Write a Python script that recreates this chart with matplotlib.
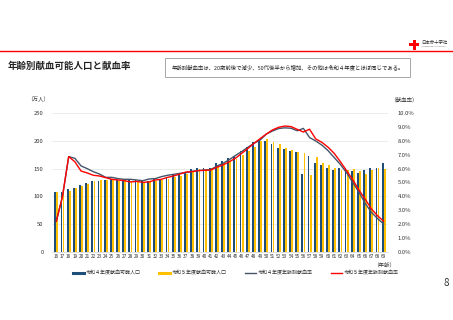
import matplotlib.pyplot as plt
import numpy as np
from matplotlib.lines import Line2D
from matplotlib.patches import Rectangle

plt.rcParams['font.family'] = ['Noto Sans CJK JP', 'DejaVu Sans']

ages = [str(a) for a in range(16, 70)]

# 献血可能人口（万人）
pop_r4 = [107, 107, 113, 115, 120, 125, 127, 128, 130, 131, 130, 130, 131, 130, 128, 128,
          131, 132, 135, 139, 140, 143, 149, 151, 151, 152, 160, 163, 169, 173, 181, 190,
          199, 202, 200, 194, 188, 185, 181, 180, 140, 172, 161, 157, 152, 148, 151, 151,
          146, 142, 148, 152, 152, 160]
pop_r5 = [107, 107, 110, 115, 118, 123, 127, 130, 130, 130, 128, 129, 128, 128, 126, 126,
          127, 130, 132, 135, 137, 141, 146, 149, 150, 151, 155, 160, 164, 167, 175, 182,
          189, 200, 204, 199, 194, 188, 184, 180, 179, 139, 171, 160, 156, 151, 148, 148,
          150, 146, 141, 148, 151, 150]

# 年齢別献血率（%）
rate_r4 = [2.2, 4.0, 6.87, 6.75, 6.2, 6.0, 5.78, 5.61, 5.37, 5.37, 5.28, 5.23, 5.23, 5.18,
           5.13, 5.25, 5.28, 5.42, 5.52, 5.59, 5.66, 5.71, 5.81, 5.86, 5.9, 5.93, 6.19, 6.39,
           6.65, 6.95, 7.23, 7.54, 7.83, 8.07, 8.5, 8.72, 8.9, 8.95, 8.92, 8.74, 8.91, 8.25,
           8.0, 7.7, 7.3, 6.8, 6.3, 5.7, 5.0, 4.3, 3.5, 2.85, 2.4, 2.0]
rate_r5 = [2.2, 4.0, 6.87, 6.5, 5.83, 5.69, 5.52, 5.47, 5.35, 5.23, 5.18, 5.13, 5.04, 5.08,
           5.01, 5.04, 5.18, 5.23, 5.37, 5.47, 5.61, 5.76, 5.78, 5.86, 5.88, 5.9, 6.1, 6.27,
           6.5, 6.75, 7.1, 7.45, 7.83, 8.17, 8.5, 8.8, 8.99, 9.08, 9.04, 8.84, 8.65, 8.85,
           8.15, 7.9, 7.55, 7.1, 6.5, 5.85, 5.2, 4.45, 3.8, 3.1, 2.6, 2.2]

navy = '#1F4E79'
gold = '#FFC000'
slate = '#44546A'
red = '#FF0000'

fig = plt.figure(figsize=(4.53, 3.2), dpi=100)

# header
fig.add_artist(Line2D([0, 1], [1 - 50.5 / 320] * 2, color=red, lw=1.0))
fig.add_artist(Rectangle((409 / 453, 1 - 46 / 320), 10 / 453, 3 / 320, color=red, lw=0))
fig.add_artist(Rectangle((412.5 / 453, 1 - 49.5 / 320), 3 / 453, 10 / 320, color=red, lw=0))
fig.text(421 / 453, 1 - 42 / 320, '日本赤十字社', fontsize=3.2, color='#333333',
         va='center', ha='left')
fig.text(421 / 453, 1 - 46.5 / 320, 'Japanese Red Cross Society', fontsize=1.3,
         color='#666666', va='center', ha='left', family='DejaVu Sans')
fig.text(8 / 453, 1 - 66 / 320, '年齢別献血可能人口と献血率', fontsize=6.8,
         fontweight='bold', va='center', ha='left', color='#222222')
fig.text(287.5 / 453, 1 - 67.5 / 320,
         '年齢別献血率は、20歳前後で減少、50代後半から増加、その他は令和４年度とほぼ同じである。',
         fontsize=3.9, va='center', ha='center', color='#222222',
         bbox=dict(boxstyle='square,pad=1.25', fc='white', ec='#999999', lw=0.6))
fig.text(446 / 453, 1 - 283 / 320, '8', fontsize=7, va='center', ha='center',
         color='#333333')

ax = fig.add_axes([52 / 453, 1 - 251.7 / 320, 336 / 453, 138.4 / 320])
x = np.arange(len(ages))
w = 0.3
ax.bar(x - 0.17, pop_r4, width=w, color=navy, zorder=2)
ax.bar(x + 0.17, pop_r5, width=w, color=gold, zorder=2)
ax.set_ylim(0, 250)
ax.set_yticks(range(0, 251, 50))
ax.set_xlim(-0.7, len(ages) - 0.3)
ax.set_xticks(x)
ax.set_xticklabels(ages, fontsize=3.4, color='#333333')
ax.tick_params(axis='y', labelsize=4.2, colors='#333333', length=0, pad=6)
ax.tick_params(axis='x', length=0, pad=2)
ax.grid(axis='y', color='#E3E3E3', lw=0.5, zorder=0)
for s in ['top', 'right', 'left']:
    ax.spines[s].set_visible(False)
ax.spines['bottom'].set_color('#D0D0D0')
ax.spines['bottom'].set_linewidth(0.5)

ax2 = ax.twinx()
ax2.plot(x, rate_r4, color=slate, lw=1.0, zorder=3)
ax2.plot(x, rate_r5, color=red, lw=1.0, zorder=4)
ax2.set_ylim(0, 10)
ax2.set_yticks(range(0, 11))
ax2.set_yticklabels([f'{v:.1f}%' for v in range(0, 11)], fontsize=4.2, color='#333333')
ax2.tick_params(axis='y', length=0, pad=7)
for s in ['top', 'right', 'left', 'bottom']:
    ax2.spines[s].set_visible(False)

fig.text(38 / 453, 1 - 99.5 / 320, '（万人）', fontsize=4.0, ha='center', va='center',
         color='#333333')
fig.text(404 / 453, 1 - 99.5 / 320, '（献血率）', fontsize=4.0, ha='center', va='center',
         color='#333333')
fig.text(384 / 453, 1 - 265 / 320, '（年齢）', fontsize=4.0, ha='center', va='center',
         color='#333333')

handles = [Line2D([], [], color=navy, lw=2.2),
           Line2D([], [], color=gold, lw=2.2),
           Line2D([], [], color=slate, lw=1.0),
           Line2D([], [], color=red, lw=1.0)]
labels = ['令和４年度献血可能人口', '令和５年度献血可能人口',
          '令和４年度年齢別献血率', '令和５年度年齢別献血率']
fig.legend(handles, labels, loc='center', bbox_to_anchor=(236 / 453, 1 - 273 / 320),
           ncol=4, frameon=False, fontsize=3.6, handlelength=2.2, handletextpad=0.4,
           columnspacing=3.6, labelcolor='#333333')

fig.savefig('out.png', dpi=100)
